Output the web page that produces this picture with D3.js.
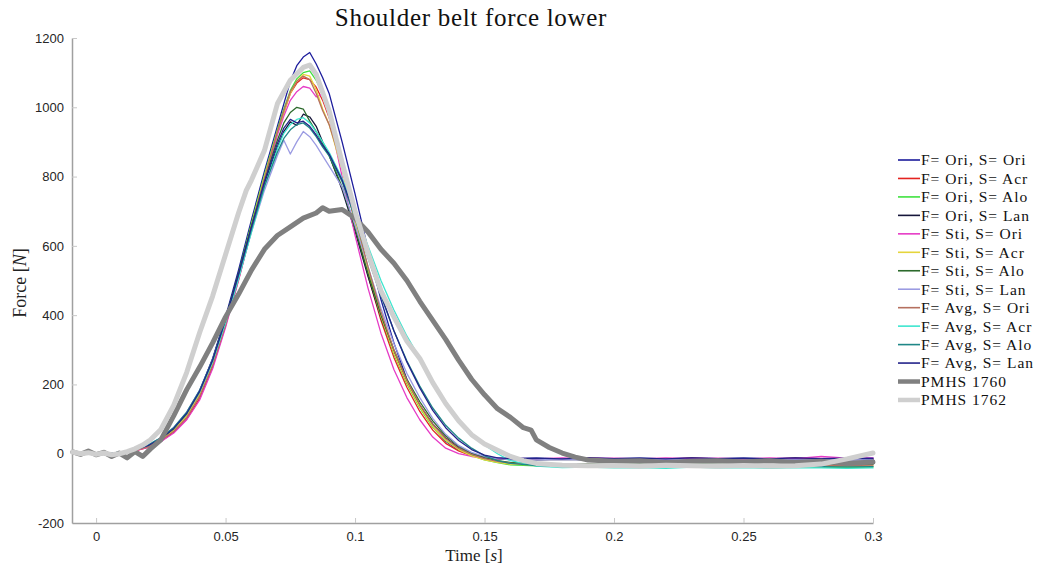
<!DOCTYPE html>
<html>
<head>
<meta charset="utf-8">
<script src="https://cdn.jsdelivr.net/npm/d3@7"></script>
<style>
  body { margin: 0; background: #fff; }
  svg { display: block; }
  .tick text { font-family: "Liberation Sans", Arial, sans-serif; font-size: 13px; fill: #262626; }
</style>
</head>
<body>
<div id="chart"></div>
<script>
// Time base of the simulation curves [s]
var simTime = [0, 0.005, 0.01, 0.015, 0.02, 0.025, 0.03, 0.035, 0.04, 0.045, 0.05, 0.055, 0.06, 0.065, 0.07,
  0.0725, 0.075, 0.0775, 0.08, 0.0825, 0.085, 0.0875, 0.09,
  0.095, 0.1, 0.105, 0.11, 0.115, 0.12, 0.125, 0.13, 0.135, 0.14, 0.145, 0.15, 0.155, 0.16,
  0.17, 0.18, 0.19, 0.2, 0.21, 0.22, 0.23, 0.24, 0.25, 0.26, 0.27, 0.28, 0.29, 0.3]

// Simulation forces [N]
var oriOri = [0, 1, 4, 10, 22, 42, 72, 115, 180, 275, 395, 530, 675, 815, 945,
  1010, 1075, 1120, 1145, 1158, 1125, 1085, 1040,
  900, 750, 590, 445, 320, 215, 138, 78, 36, 10, -4, -10, -12, -14,
  -13, -15, -12, -14, -13, -15, -12, -14, -13, -15, -12, -14, -13, -12]
var oriAcr = [0, 1, 3, 8, 18, 36, 62, 100, 160, 250, 370, 502, 645, 790, 925,
  985, 1040, 1070, 1085, 1080, 1058, 1020, 970,
  825, 665, 515, 385, 278, 192, 122, 68, 30, 8, -6, -12, -14, -15,
  -14, -16, -13, -15, -14, -16, -13, -15, -14, -16, -13, -15, -14, -15]
var oriAlo = [0, 1, 4, 10, 22, 40, 70, 112, 175, 266, 385, 520, 665, 805, 935,
  995, 1048, 1082, 1100, 1105, 1078, 1038, 985,
  842, 682, 532, 398, 288, 202, 132, 76, 38, 14, -5, -18, -26, -32,
  -35, -37, -36, -38, -37, -39, -36, -38, -37, -39, -37, -38, -40, -38]
var oriLan = [0, 1, 4, 11, 24, 44, 74, 118, 182, 272, 390, 520, 655, 780, 885,
  930, 958, 948, 980, 972, 945, 900, 862,
  762, 642, 512, 392, 292, 206, 140, 86, 46, 18, 0, -10, -15, -17,
  -18, -16, -18, -17, -19, -16, -18, -17, -19, -16, -18, -17, -18, -17]
var stiOri = [0, 0, 3, 8, 18, 35, 60, 98, 155, 245, 365, 500, 645, 790, 920,
  975, 1020, 1045, 1060, 1055, 1030, 1038, 975,
  800, 630, 478, 348, 243, 162, 98, 48, 16, 0, -8, -12, -14, -13,
  -15, -12, -14, -13, -15, -12, -14, -13, -15, -12, -14, -8, -13, -13]
var stiAcr = [0, 1, 4, 10, 21, 40, 68, 110, 172, 262, 380, 515, 660, 800, 930,
  985, 1040, 1075, 1095, 1090, 1050, 995, 950,
  820, 670, 525, 395, 290, 205, 135, 78, 38, 12, -6, -18, -25, -30,
  -33, -35, -34, -36, -35, -37, -34, -36, -35, -37, -35, -36, -37, -36]
var stiAlo = [0, 1, 4, 11, 23, 43, 73, 116, 180, 270, 388, 520, 658, 790, 905,
  955, 985, 1000, 995, 960, 930, 895, 860,
  770, 650, 520, 400, 300, 215, 150, 95, 52, 22, 2, -12, -20, -25,
  -28, -30, -29, -31, -30, -32, -29, -31, -30, -32, -30, -31, -32, -31]
var stiLan = [0, 1, 5, 12, 25, 46, 76, 120, 184, 272, 385, 510, 640, 760, 860,
  905, 865, 900, 930, 915, 890, 860, 830,
  770, 660, 540, 420, 318, 232, 162, 102, 56, 24, 4, -8, -14, -17,
  -18, -16, -18, -17, -19, -16, -18, -17, -19, -16, -18, -17, -18, -17]
var avgOri = [0, 1, 3, 9, 20, 38, 65, 105, 166, 255, 372, 505, 650, 795, 930,
  990, 1045, 1075, 1090, 1080, 1040, 990, 950,
  830, 685, 540, 410, 300, 212, 142, 85, 44, 16, -2, -14, -22, -27,
  -30, -32, -31, -33, -32, -34, -31, -33, -32, -34, -32, -33, -34, -33]
var avgAcr = [0, 1, 5, 12, 25, 45, 74, 116, 178, 265, 378, 505, 640, 770, 880,
  925, 950, 965, 970, 955, 930, 900, 870,
  795, 700, 600, 500, 415, 340, 275, 210, 150, 100, 58, 25, 0, -20,
  -36, -40, -39, -41, -40, -42, -39, -41, -40, -42, -40, -41, -42, -41]
var avgAlo = [0, 1, 5, 12, 25, 46, 76, 120, 183, 272, 388, 515, 648, 772, 870,
  910, 935, 950, 955, 940, 915, 885, 860,
  785, 680, 565, 455, 355, 268, 195, 132, 82, 45, 16, -6, -20, -28,
  -34, -36, -35, -37, -36, -38, -35, -37, -36, -38, -36, -37, -38, -37]
var avgLan = [0, 1, 4, 11, 23, 43, 73, 116, 180, 270, 387, 518, 655, 785, 895,
  940, 965, 955, 960, 945, 920, 890, 865,
  790, 690, 575, 460, 355, 265, 190, 125, 75, 38, 12, -4, -12, -14,
  -13, -15, -12, -14, -13, -15, -12, -14, -13, -15, -12, -14, -13, -14]

// PMHS test curves
var pmhs1760Time = [-0.009, -0.006, -0.003, 0, 0.003, 0.006, 0.009, 0.012, 0.015, 0.018,
  0.021, 0.025, 0.03, 0.035, 0.04, 0.045, 0.05, 0.055, 0.06, 0.065,
  0.07, 0.075, 0.08, 0.085, 0.0875, 0.09, 0.095, 0.1, 0.105, 0.11,
  0.115, 0.12, 0.125, 0.13, 0.135, 0.14, 0.145, 0.15, 0.155, 0.16,
  0.165, 0.168, 0.17, 0.175, 0.18, 0.185, 0.19, 0.2, 0.21, 0.22,
  0.23, 0.24, 0.25, 0.26, 0.27, 0.28, 0.29, 0.3]
var pmhs1760Force = [5, -2, 8, -3, 4, -8, 2, -12, 6, -8,
  14, 40, 110, 185, 250, 320, 395, 460, 530, 590,
  630, 655, 680, 695, 710, 700, 705, 680, 640, 590,
  550, 500, 440, 385, 330, 270, 215, 170, 130, 105,
  75, 68, 40, 18, 2, -10, -18, -22, -20, -25,
  -22, -20, -24, -20, -25, -22, -28, -24]
var pmhs1762Time = [-0.009, -0.006, -0.003, 0, 0.003, 0.006, 0.009, 0.012, 0.015, 0.018,
  0.021, 0.025, 0.03, 0.035, 0.04, 0.045, 0.05, 0.055, 0.058, 0.06,
  0.065, 0.07, 0.075, 0.08, 0.0825, 0.085, 0.09, 0.095, 0.1, 0.105,
  0.11, 0.115, 0.12, 0.125, 0.13, 0.135, 0.14, 0.145, 0.15, 0.155,
  0.16, 0.165, 0.17, 0.18, 0.19, 0.2, 0.21, 0.22, 0.23, 0.24,
  0.25, 0.26, 0.27, 0.28, 0.29, 0.3]
var pmhs1762Force = [5, 0, 3, -2, 2, -3, 0, 6, 14, 25,
  40, 70, 140, 235, 350, 455, 575, 695, 760, 790,
  875, 1010, 1078, 1115, 1122, 1095, 990, 840, 700, 580,
  470, 395, 325, 275, 205, 145, 95, 55, 28, 10,
  -8, -20, -28, -33, -35, -34, -36, -33, -35, -36,
  -34, -36, -35, -30, -15, 2]

var seriesNames = ["F= Ori, S= Ori", "F= Ori, S= Acr", "F= Ori, S= Alo", "F= Ori, S= Lan",
  "F= Sti, S= Ori", "F= Sti, S= Acr", "F= Sti, S= Alo", "F= Sti, S= Lan",
  "F= Avg, S= Ori", "F= Avg, S= Acr", "F= Avg, S= Alo", "F= Avg, S= Lan",
  "PMHS 1760", "PMHS 1762"]

var xTicks = [0, 0.05, 0.1, 0.15, 0.2, 0.25, 0.3]
var xTickLabels = ["0", "0.05", "0.1", "0.15", "0.2", "0.25", "0.3"]
var yTicks = [-200, 0, 200, 400, 600, 800, 1000, 1200]
var yTickLabels = ["-200", "0", "200", "400", "600", "800", "1000", "1200"]

// styles
var seriesColors = ["#1c1c9c", "#e4231f", "#3fe23f", "#16163a", "#e63bc6", "#e5d53c", "#2c6a2c",
  "#9b9be2", "#b5705f", "#3ee6cf", "#1f8787", "#23238a", "#808080", "#cfcfcf"]

var series = [
  { t: simTime, f: oriOri }, { t: simTime, f: oriAcr }, { t: simTime, f: oriAlo }, { t: simTime, f: oriLan },
  { t: simTime, f: stiOri }, { t: simTime, f: stiAcr }, { t: simTime, f: stiAlo }, { t: simTime, f: stiLan },
  { t: simTime, f: avgOri }, { t: simTime, f: avgAcr }, { t: simTime, f: avgAlo }, { t: simTime, f: avgLan },
  { t: pmhs1760Time, f: pmhs1760Force }, { t: pmhs1762Time, f: pmhs1762Force }
].map(function(s, i) {
  return {
    name: seriesNames[i],
    color: seriesColors[i],
    thick: i >= 12,
    points: s.t.map(function(t, j) { return { t: t, f: s.f[j] } })
  }
})

var width = 1041, height = 570
var plot = { left: 72, right: 873, top: 38, bottom: 523 }

var x = d3.scaleLinear().domain([-0.0093, 0.3]).range([plot.left, plot.right])
var y = d3.scaleLinear().domain([-200, 1200]).range([plot.bottom, plot.top])

var svg = d3.select("#chart").append("svg")
  .attr("width", width)
  .attr("height", height)

// Y axis
var yAxis = svg.append("g")
  .attr("transform", "translate(" + plot.left + ",0)")
  .call(d3.axisLeft(y).tickValues(yTicks).tickSize(-5).tickSizeOuter(0).tickPadding(8)
    .tickFormat(function(d, i) { return yTickLabels[i] }))
yAxis.select(".domain").attr("stroke", "#a0a0a0").attr("stroke-width", 1.5)
yAxis.selectAll(".tick line").attr("stroke", "#c8c8c8")

// X axis
var xAxis = svg.append("g")
  .attr("transform", "translate(0," + plot.bottom + ")")
  .call(d3.axisBottom(x).tickValues(xTicks).tickSize(-5).tickSizeOuter(0).tickPadding(9)
    .tickFormat(function(d, i) { return xTickLabels[i] }))
xAxis.select(".domain").attr("stroke", "#a0a0a0").attr("stroke-width", 1.5)
xAxis.selectAll(".tick line").attr("stroke", "#c8c8c8")

// Curves
var line = d3.line()
  .x(function(d) { return x(d.t) })
  .y(function(d) { return y(d.f) })

svg.append("g").selectAll("path")
  .data(series)
  .enter()
  .append("path")
  .attr("d", function(d) { return line(d.points) })
  .attr("fill", "none")
  .attr("stroke", function(d) { return d.color })
  .attr("stroke-width", function(d) { return d.thick ? 5 : 1.3 })
  .attr("stroke-linejoin", "round")
  .attr("stroke-linecap", "round")

// Title
svg.append("text")
  .attr("x", 471)
  .attr("y", 26)
  .attr("text-anchor", "middle")
  .style("font-family", "'Liberation Serif', serif")
  .style("font-size", "25px")
  .style("letter-spacing", "0.7px")
  .style("fill", "#111")
  .text("Shoulder belt force lower")

// Axis labels
var xLabel = svg.append("text")
  .attr("x", 474)
  .attr("y", 561)
  .attr("text-anchor", "middle")
  .style("font-family", "'Liberation Serif', serif")
  .style("font-size", "17px")
  .style("fill", "#222")
xLabel.append("tspan").text("Time [")
xLabel.append("tspan").style("font-style", "italic").text("s")
xLabel.append("tspan").text("]")

var yLabel = svg.append("text")
  .attr("transform", "translate(26,283) rotate(-90)")
  .attr("text-anchor", "middle")
  .style("font-family", "'Liberation Serif', serif")
  .style("font-size", "18px")
  .style("fill", "#222")
yLabel.append("tspan").text("Force [")
yLabel.append("tspan").style("font-style", "italic").text("N")
yLabel.append("tspan").text("]")

// Legend
var legend = svg.append("g")
  .selectAll("g")
  .data(series)
  .enter()
  .append("g")
  .attr("transform", function(d, i) { return "translate(898," + (160 + i * 18.46) + ")" })

legend.append("line")
  .attr("x1", 0).attr("x2", 22)
  .attr("stroke", function(d) { return d.color })
  .attr("stroke-width", function(d) { return d.thick ? 4.5 : 1.6 })

legend.append("text")
  .attr("x", 23)
  .attr("dy", "0.35em")
  .style("font-family", "'Liberation Serif', serif")
  .style("font-size", "15.5px")
  .style("letter-spacing", "1px")
  .style("fill", "#111")
  .text(function(d) { return d.name })
</script>
</body>
</html>
